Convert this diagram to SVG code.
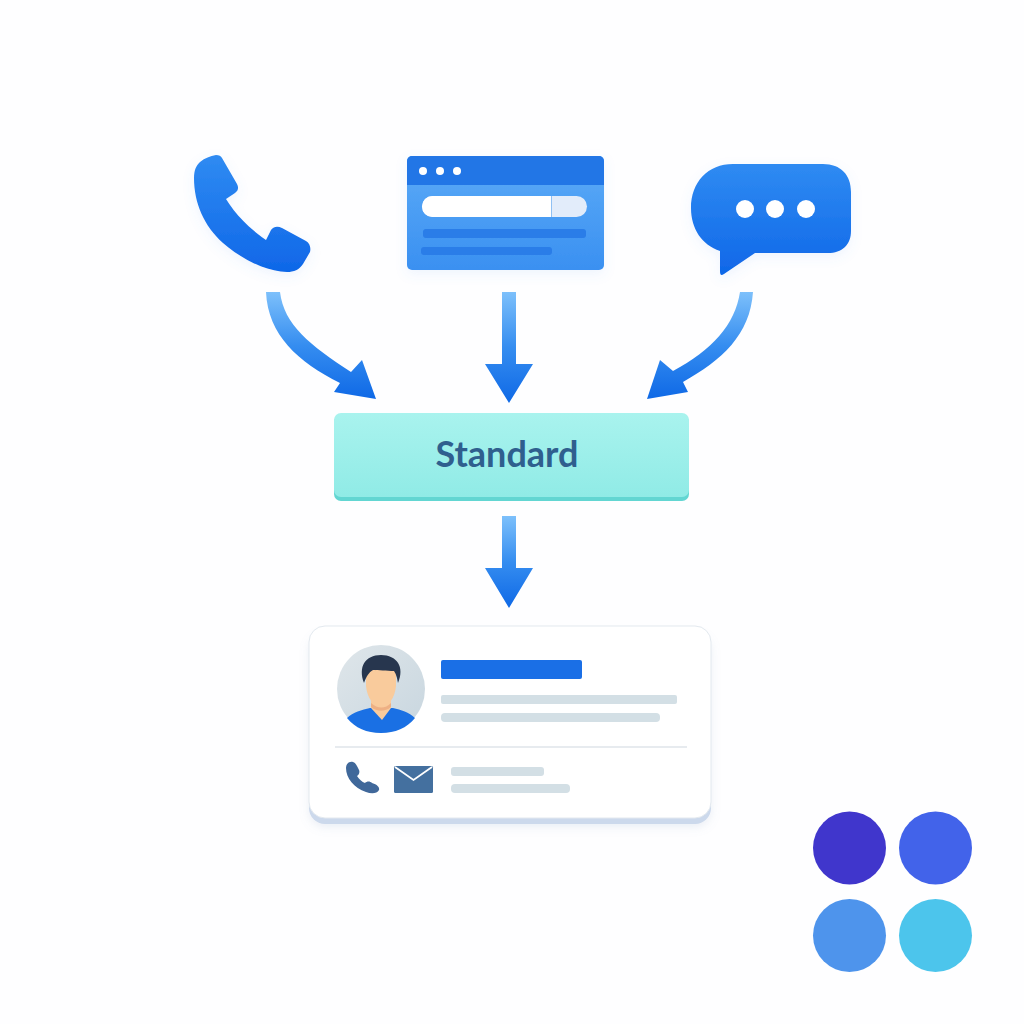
<svg xmlns="http://www.w3.org/2000/svg" width="1024" height="1024" viewBox="0 0 1024 1024">
<style>
.dot{fill:#fff}
.grey{fill:#d3dfe5}
.txt{font-family:"Lato","Open Sans",sans-serif;font-size:36px;font-weight:700;fill:#2f5f8e;text-anchor:middle}
</style>
<defs>
<linearGradient id="icon" x1="0" y1="0" x2="0" y2="1"><stop offset="0" stop-color="#2f8bf2"/><stop offset="1" stop-color="#0f67e8"/></linearGradient>
<linearGradient id="panel" x1="0" y1="0" x2="0" y2="1"><stop offset="0" stop-color="#5cabf7"/><stop offset="1" stop-color="#3a90f1"/></linearGradient>
<linearGradient id="arrow" x1="0" y1="0" x2="0" y2="1"><stop offset="0" stop-color="#7dc0fb"/><stop offset=".5" stop-color="#358df0"/><stop offset="1" stop-color="#0f69e6"/></linearGradient>
<linearGradient id="std" x1="0" y1="0" x2="0" y2="1"><stop offset="0" stop-color="#a9f3ee"/><stop offset="1" stop-color="#90ebe6"/></linearGradient>
<linearGradient id="av" x1="0" y1="0" x2="1" y2="1"><stop offset="0" stop-color="#dfe6ea"/><stop offset="1" stop-color="#c8d6df"/></linearGradient>
<filter id="soft" x="-20%" y="-20%" width="140%" height="150%"><feDropShadow dx="0" dy="4" stdDeviation="6" flood-color="#5a9cf0" flood-opacity=".1"/></filter>
<filter id="softg" x="-10%" y="-10%" width="120%" height="125%"><feDropShadow dx="0" dy="3" stdDeviation="5" flood-color="#8aa6c8" flood-opacity=".18"/></filter>
</defs>
<rect width="1024" height="1024" fill="#fefeff"/>

<g id="phone-source" filter="url(#soft)">
<path fill="url(#icon)" d="M194 178C194 170 196 166 200 162C205 158 210 156 216 155C219 155 221 156 222 158L237 184C239 188 238 191 235 193L226 199C235 214 250 229 266 240L271 230C274 226 278 226 282 228L306 241C310 243 311 248 310 252L303 264C299 270 294 272 287 272C266 272 240 258 223 243C204 226 194 203 194 178Z"/>
</g>

<g id="browser-source" filter="url(#soft)">
<rect x="407" y="156" width="197" height="114" rx="5" fill="url(#panel)"/>
<path fill="#2176e6" d="M412 156H599A5 5 0 0 1 604 161V185H407V161A5 5 0 0 1 412 156Z"/>
<circle class="dot" cx="423" cy="171" r="4"/><circle class="dot" cx="440" cy="171" r="4"/><circle class="dot" cx="457" cy="171" r="4"/>
<rect x="422" y="196" width="165" height="21" rx="10.500" fill="#e2ecfa"/>
<path fill="#fff" d="M432.500 196H551V217H432.500A10.500 10.500 0 0 1 432.500 196Z"/>
<rect x="551" y="196" width="1" height="21" fill="#8fc0f3"/>
<rect x="423" y="229" width="163" height="9" rx="3" fill="#2a7de8"/>
<rect x="421" y="247" width="131" height="8" rx="3" fill="#2a7de8"/>
</g>

<g id="chat-source" filter="url(#soft)">
<path fill="url(#icon)" d="M733 164H823C841 164 851 175 851 192V231C851 245 842 253 828 253H755L724 274C721 276 720 275 720 271V251C702 245 691 229 691 208C691 182 708 164 733 164Z"/>
<circle class="dot" cx="745" cy="209" r="9"/><circle class="dot" cx="775" cy="209" r="9"/><circle class="dot" cx="806" cy="209" r="9"/>
</g>

<g id="connectors">
<path fill="url(#arrow)" d="M266 292H280C284 325 310 345 351 372L362 360L376 399L334 392L340 383C298 362 268 335 266 292Z"/>
<path fill="url(#arrow)" d="M502 292H516V364H533L509 403L485 364H502Z"/>
<path fill="url(#arrow)" d="M740 292H753C750 335 722 360 683 382L688 392L647 399L660 360L673 371C712 350 735 325 740 292Z"/>
<path fill="url(#arrow)" d="M502 516H516V568H533L509 608L485 568H502Z"/>
</g>

<g id="standard">
<rect x="334" y="415" width="355" height="86" rx="7" fill="#62d6d2"/>
<rect x="334" y="413" width="355" height="84" rx="7" fill="url(#std)"/>
<text class="txt" x="507" y="467">Standard</text>
</g>

<g id="contact-card">
<rect x="309" y="632" width="402" height="192" rx="16" fill="#ccd9ec" filter="url(#softg)"/>
<rect x="309" y="626" width="402" height="192" rx="16" fill="#fff" stroke="#e3e9ef" stroke-width="1"/>
<circle cx="381" cy="689" r="44" fill="url(#av)"/>
<path fill="#1a70e4" d="M347 718C353 712 362 710 370 708H393C401 710 409 712 415 718C407 728 395 733 381 733C367 733 355 728 347 718Z"/>
<path fill="#f9cb9c" d="M371 700H391V708L382 720L371 708Z"/>
<path fill="#eeb084" d="M371 703C378 709 385 709 391 703V707C385 712 377 712 371 707Z"/>
<path fill="#f9cb9c" d="M366 670H396V686C395 698 388 707 381 707C374 707 367 698 366 686Z"/>
<path fill="#27364e" d="M364 683C358 667 365 655 381 655C397 655 405 667 398 683C397 677 396 674 394 671C387 671 378 670 373 670C369 672 366 677 364 683Z"/>
<rect x="441" y="660" width="141" height="19" rx="2" fill="#1a6fe6"/>
<rect class="grey" x="441" y="695" width="236" height="9" rx="2"/>
<rect class="grey" x="441" y="713" width="219" height="9" rx="4"/>
<rect x="335" y="746.500" width="352" height="1" fill="#cfd8df"/>
<path fill="#40689a" d="M346 768C346 763 350 761 353 762C356 763 357 766 359 770C360 772 359 775 357 776C359 779 362 782 365 783C367 781 370 781 372 783C376 784 380 787 379 790C377 794 371 794 366 792C354 788 346 778 346 768Z"/>
<rect x="394" y="766" width="39" height="27" rx="1.500" fill="#44709f"/>
<path d="M395 767L413.500 780L432 767" fill="none" stroke="#fff" stroke-width="1.800"/>
<rect class="grey" x="451" y="767" width="93" height="9" rx="3"/>
<rect class="grey" x="451" y="784" width="119" height="9" rx="4"/>
</g>

<g id="palette">
<circle cx="849.500" cy="848" r="36.500" fill="#4036cc"/>
<circle cx="935.500" cy="848" r="36.500" fill="#4263ea"/>
<circle cx="849.500" cy="935.500" r="36.500" fill="#4e94ec"/>
<circle cx="935.500" cy="935.500" r="36.500" fill="#4cc5ec"/>
</g>
</svg>
